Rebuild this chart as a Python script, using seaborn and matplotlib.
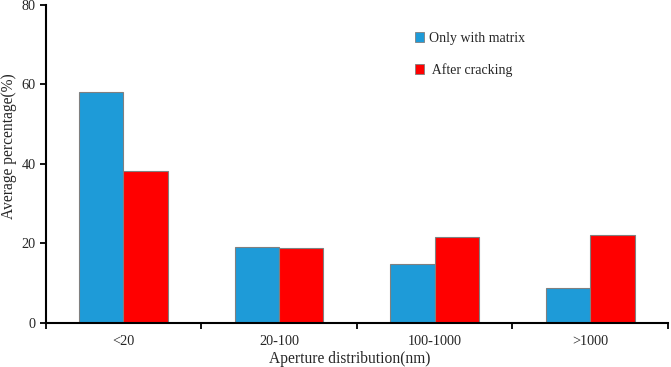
import matplotlib
matplotlib.use("Agg")
import matplotlib.pyplot as plt
import seaborn as sns
import pandas as pd
from matplotlib.patches import Patch

categories = ["<20", "20-100", "100-1000", ">1000"]
only_matrix = [58.0, 19.0, 14.8, 8.7]
after_cracking = [38.2, 18.7, 21.5, 22.2]
series_names = ["Only with matrix", "After cracking"]
colors = ["#1E9BD8", "#FF0000"]

df = pd.DataFrame({
    "cat": categories * 2,
    "val": only_matrix + after_cracking,
    "series": [series_names[0]] * 4 + [series_names[1]] * 4,
})

sns.set_theme(style="white")
plt.rcParams["font.family"] = ["Liberation Serif", "DejaVu Serif"]

fig = plt.figure(figsize=(6.71, 3.67), dpi=100)
ax = fig.add_axes([0.0681, 0.1207, 0.9274, 0.8657])

sns.barplot(data=df, x="cat", y="val", hue="series", order=categories,
            hue_order=series_names, palette=colors, saturation=1,
            width=0.57, gap=0, edgecolor="#808080", linewidth=0.8, ax=ax,
            legend=False)

ax.set_xlim(-0.5, 3.5)
ax.set_ylim(0, 80)
ax.set_yticks([0, 20, 40, 60, 80])
ax.tick_params(axis="y", direction="out", length=4, width=1.3, color="black",
               labelsize=10.3, left=True, pad=3)
ax.set_xticks(range(4))
ax.set_xticklabels(categories)
ax.tick_params(axis="x", which="major", length=0, labelsize=10.3, pad=9)
ax.set_xticks([-0.5, 0.5, 1.5, 2.5, 3.5], minor=True)
ax.tick_params(axis="x", which="minor", direction="out", length=4, width=1.3,
               color="black", bottom=True)

for s in ["top", "right"]:
    ax.spines[s].set_visible(False)
for s in ["left", "bottom"]:
    ax.spines[s].set_color("black")
    ax.spines[s].set_linewidth(1.5)

ax.set_xlabel("Aperture distribution(nm)", fontsize=11.2)
ax.set_ylabel("Average percentage(%)", fontsize=11.2)
ax.xaxis.set_label_coords(0.489, -0.088)
ax.yaxis.set_label_coords(-0.046, 0.557)

handles = [Patch(facecolor=colors[0], edgecolor="#808080", linewidth=0.6),
           Patch(facecolor=colors[1], edgecolor="#808080", linewidth=0.6)]
ax.legend(handles, ["Only with matrix", " After cracking"], loc="upper left",
          bbox_to_anchor=(0.573, 0.955), frameon=False, fontsize=10,
          handlelength=0.7, handleheight=0.7, handletextpad=0.3,
          labelspacing=1.3)

fig.savefig("out.png", dpi=100)
